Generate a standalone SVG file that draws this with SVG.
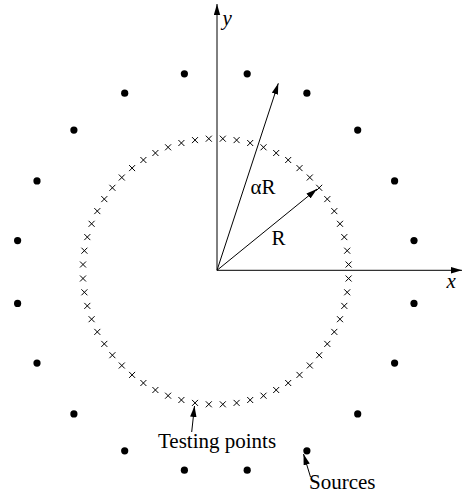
<svg xmlns="http://www.w3.org/2000/svg" xmlns:xlink="http://www.w3.org/1999/xlink" width="462" height="494" viewBox="0 0 462 494">
<style>
.ln{stroke:#000;stroke-width:1;fill:none}
.cx{stroke:#000;stroke-width:1;fill:none}
.t{font-family:"Liberation Serif","Times New Roman",serif;font-size:21px;fill:#000}
.i{font-style:italic}
</style>
<defs>
<marker id="ah" markerUnits="userSpaceOnUse" markerWidth="12" markerHeight="8" refX="11" refY="3.2" orient="auto">
<path d="M0,0 L11,3.2 L0,6.4 z" fill="#000"/>
</marker>
<path id="c" d="M-3,-3 L3,3 M-3,3 L3,-3" class="cx"/>
<circle id="d" r="3.6" fill="#000"/>
</defs>
<rect width="462" height="494" fill="#fff"/>

<g id="connectors">
<line class="ln" x1="217" y1="270.3" x2="217" y2="4" marker-end="url(#ah)"/>
<line class="ln" x1="217" y1="270.3" x2="462" y2="270.3" marker-end="url(#ah)"/>
<line class="ln" x1="217" y1="270.3" x2="278.3" y2="83.3" marker-end="url(#ah)"/>
<line class="ln" x1="217" y1="270.3" x2="317" y2="189" marker-end="url(#ah)"/>
<line class="ln" x1="191.7" y1="432" x2="194.5" y2="406" marker-end="url(#ah)"/>
<line class="ln" x1="310.5" y1="477" x2="303.5" y2="454" marker-end="url(#ah)"/>
</g>

<g id="testing-points" transform="translate(215.8,271.5)">
<use xlink:href="#c" x="132.8" y="7"/><use xlink:href="#c" x="131.4" y="20.8"/><use xlink:href="#c" x="128.5" y="34.4"/><use xlink:href="#c" x="124.2" y="47.7"/><use xlink:href="#c" x="118.5" y="60.4"/><use xlink:href="#c" x="111.5" y="72.4"/><use xlink:href="#c" x="103.4" y="83.7"/><use xlink:href="#c" x="94" y="94"/><use xlink:href="#c" x="83.7" y="103.4"/><use xlink:href="#c" x="72.4" y="111.5"/><use xlink:href="#c" x="60.4" y="118.5"/><use xlink:href="#c" x="47.7" y="124.2"/><use xlink:href="#c" x="34.4" y="128.5"/><use xlink:href="#c" x="20.8" y="131.4"/><use xlink:href="#c" x="7" y="132.8"/>
<use xlink:href="#c" x="-132.8" y="7"/><use xlink:href="#c" x="-131.4" y="20.8"/><use xlink:href="#c" x="-128.5" y="34.4"/><use xlink:href="#c" x="-124.2" y="47.7"/><use xlink:href="#c" x="-118.5" y="60.4"/><use xlink:href="#c" x="-111.5" y="72.4"/><use xlink:href="#c" x="-103.4" y="83.7"/><use xlink:href="#c" x="-94" y="94"/><use xlink:href="#c" x="-83.7" y="103.4"/><use xlink:href="#c" x="-72.4" y="111.5"/><use xlink:href="#c" x="-60.4" y="118.5"/><use xlink:href="#c" x="-47.7" y="124.2"/><use xlink:href="#c" x="-34.4" y="128.5"/><use xlink:href="#c" x="-20.8" y="131.4"/><use xlink:href="#c" x="-7" y="132.8"/>
<use xlink:href="#c" x="132.8" y="-7"/><use xlink:href="#c" x="131.4" y="-20.8"/><use xlink:href="#c" x="128.5" y="-34.4"/><use xlink:href="#c" x="124.2" y="-47.7"/><use xlink:href="#c" x="118.5" y="-60.4"/><use xlink:href="#c" x="111.5" y="-72.4"/><use xlink:href="#c" x="103.4" y="-83.7"/><use xlink:href="#c" x="94" y="-94"/><use xlink:href="#c" x="83.7" y="-103.4"/><use xlink:href="#c" x="72.4" y="-111.5"/><use xlink:href="#c" x="60.4" y="-118.5"/><use xlink:href="#c" x="47.7" y="-124.2"/><use xlink:href="#c" x="34.4" y="-128.5"/><use xlink:href="#c" x="20.8" y="-131.4"/><use xlink:href="#c" x="7" y="-132.8"/>
<use xlink:href="#c" x="-132.8" y="-7"/><use xlink:href="#c" x="-131.4" y="-20.8"/><use xlink:href="#c" x="-128.5" y="-34.4"/><use xlink:href="#c" x="-124.2" y="-47.7"/><use xlink:href="#c" x="-118.5" y="-60.4"/><use xlink:href="#c" x="-111.5" y="-72.4"/><use xlink:href="#c" x="-103.4" y="-83.7"/><use xlink:href="#c" x="-94" y="-94"/><use xlink:href="#c" x="-83.7" y="-103.4"/><use xlink:href="#c" x="-72.4" y="-111.5"/><use xlink:href="#c" x="-60.4" y="-118.5"/><use xlink:href="#c" x="-47.7" y="-124.2"/><use xlink:href="#c" x="-34.4" y="-128.5"/><use xlink:href="#c" x="-20.8" y="-131.4"/><use xlink:href="#c" x="-7" y="-132.8"/>
</g>

<g id="sources" transform="translate(215.8,272)">
<use xlink:href="#d" x="198.2" y="31.4"/><use xlink:href="#d" x="178.8" y="91.1"/><use xlink:href="#d" x="141.9" y="141.9"/><use xlink:href="#d" x="91.1" y="178.8"/><use xlink:href="#d" x="31.4" y="198.2"/>
<use xlink:href="#d" x="-198.2" y="31.4"/><use xlink:href="#d" x="-178.8" y="91.1"/><use xlink:href="#d" x="-141.9" y="141.9"/><use xlink:href="#d" x="-91.1" y="178.8"/><use xlink:href="#d" x="-31.4" y="198.2"/>
<use xlink:href="#d" x="198.2" y="-31.4"/><use xlink:href="#d" x="178.8" y="-91.1"/><use xlink:href="#d" x="141.9" y="-141.9"/><use xlink:href="#d" x="91.1" y="-178.8"/><use xlink:href="#d" x="31.4" y="-198.2"/>
<use xlink:href="#d" x="-198.2" y="-31.4"/><use xlink:href="#d" x="-178.8" y="-91.1"/><use xlink:href="#d" x="-141.9" y="-141.9"/><use xlink:href="#d" x="-91.1" y="-178.8"/><use xlink:href="#d" x="-31.4" y="-198.2"/>
</g>

<g id="labels">
<text class="t i" x="222.5" y="25">y</text>
<text class="t i" x="446.5" y="288">x</text>
<text class="t" x="250.5" y="194">αR</text>
<text class="t" x="271.5" y="245">R</text>
<text class="t" x="158" y="448">Testing points</text>
<text class="t" x="309" y="489">Sources</text>
</g>
</svg>
